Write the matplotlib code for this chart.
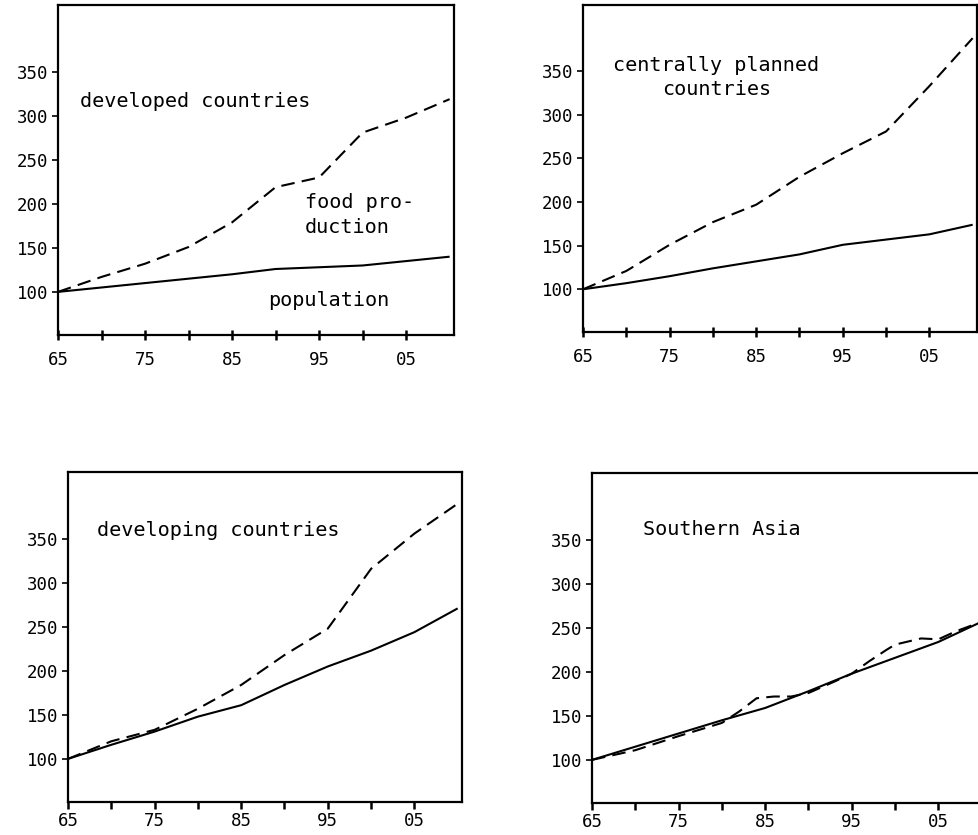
import matplotlib
matplotlib.use("Agg")
import matplotlib.pyplot as plt

# index values (1965 = 100)
dev_years = [1965, 1970, 1975, 1980, 1985, 1990, 1995, 2000, 2005, 2010]
dev_pop = [100, 105, 110, 115, 120, 126, 128, 130, 135, 140]
dev_food = [100, 117, 132, 151, 179, 219, 230, 281, 298, 319]

cp_years = [1965, 1970, 1975, 1980, 1985, 1990, 1995, 2000, 2005, 2010]
cp_pop = [100, 107, 115, 124, 132, 140, 151, 157, 163, 174]
cp_food = [100, 121, 151, 177, 197, 229, 256, 281, 333, 388]

dvg_years = [1965, 1970, 1975, 1980, 1985, 1990, 1995, 2000, 2005, 2010]
dvg_pop = [100, 116, 131, 148, 161, 184, 205, 223, 244, 271]
dvg_food = [100, 120, 133, 157, 184, 218, 248, 316, 356, 390]

sa_pop_years = [1965, 1970, 1975, 1980, 1985, 1990, 1995, 2000, 2005, 2010]
sa_pop = [100, 115, 130, 145, 159, 178, 198, 216, 234, 257]
sa_food_years = [1965, 1970, 1975, 1978, 1980, 1982, 1984, 1986, 1988, 1990,
                 1993, 1995, 1997, 1999, 2000, 2003, 2005, 2007, 2010]
sa_food = [100, 111, 127, 136, 142, 155, 170, 172, 172, 176,
           189, 198, 212, 225, 231, 238, 237, 246, 257]

yticks = [100, 150, 200, 250, 300, 350]
major_x = [1965, 1975, 1985, 1995, 2005]
major_lbl = ["65", "75", "85", "95", "05"]
minor_x = [1970, 1980, 1990, 2000]

mono = "DejaVu Sans Mono"

fig = plt.figure(figsize=(9.79, 8.35), dpi=100)
W, H = 979.0, 835.0


def make_ax(left, top, right, bottom, years_pop, pop, years_food, food, xtick_dir, xpad):
    ax = fig.add_axes([left / W, 1 - bottom / H, (right - left) / W, (bottom - top) / H])
    ax.plot(years_pop, pop, color="black", lw=1.5, solid_capstyle="butt")
    ax.plot(years_food, food, color="black", lw=1.5, dashes=(6.5, 3.5))
    ax.set_xlim(1965, 2010.5)
    ax.set_ylim(51, 426)
    ax.set_yticks(yticks)
    ax.set_yticklabels([str(v) for v in yticks], family=mono, fontsize=12.5)
    ax.set_xticks(major_x)
    ax.set_xticklabels(major_lbl, family=mono, fontsize=12.5)
    ax.set_xticks(minor_x, minor=True)
    ax.tick_params(axis="y", direction="out", length=4, width=1.2, pad=3)
    ax.tick_params(axis="x", which="both", direction=xtick_dir, length=7 if xtick_dir == "inout" else 5,
                   width=1.8, pad=xpad)
    for sp in ax.spines.values():
        sp.set_linewidth(1.6)
    return ax


ax1 = make_ax(58, 5, 454, 335, dev_years, dev_pop, dev_years, dev_food, "inout", 8)
ax1.text(1967.5, 316, "developed countries", family=mono, fontsize=14.5, va="center")
ax1.text(1993.4, 187, "food pro-\nduction", family=mono, fontsize=14.5, va="center",
         linespacing=1.4)
ax1.text(1989.1, 90, "population", family=mono, fontsize=14.5, va="center")

ax2 = make_ax(583, 5, 977, 332, cp_years, cp_pop, cp_years, cp_food, "inout", 8)
ax2.text(1980.4, 343, "centrally planned\ncountries", family=mono, fontsize=14.5,
         va="center", ha="center", linespacing=1.3)

ax3 = make_ax(68, 472, 462, 802, dvg_years, dvg_pop, dvg_years, dvg_food, "out", 2)
ax3.text(1968.3, 360, "developing countries", family=mono, fontsize=14.5, va="center")

ax4 = make_ax(592, 473, 986, 803, sa_pop_years, sa_pop, sa_food_years, sa_food, "out", 2)
ax4.text(1970.9, 362, "Southern Asia", family=mono, fontsize=14.5, va="center")

fig.savefig("out.png", dpi=100)
